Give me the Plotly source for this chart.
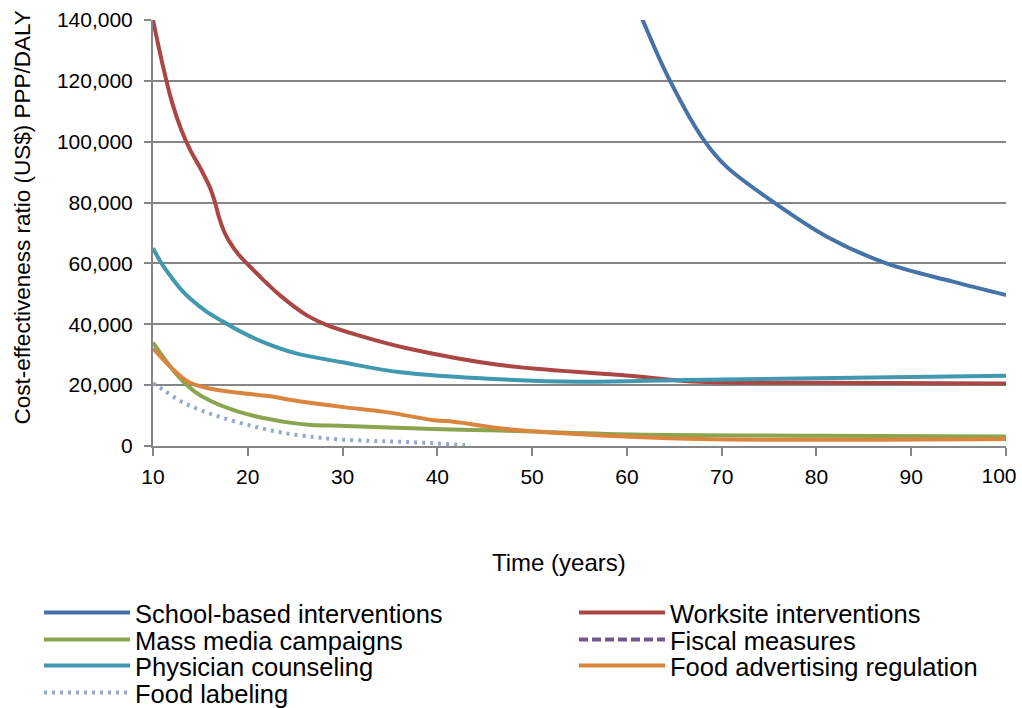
import plotly.graph_objects as go

# ---- Data ----
school_x = [61.6, 64.5, 68.1, 70.5, 75.4, 81.1, 87.4, 94.4, 100]
school_y = [140500, 120300, 100600, 91800, 80300, 68800, 60000, 54000, 49600]

worksite_x = [10, 11, 12, 13, 14, 15, 16, 16.5, 17, 17.5, 18, 19, 20, 21.5, 23.4, 26.2,
              28.3, 31.5, 36.8, 46.6, 60.6, 67.7, 80, 100]
worksite_y = [140000, 125500, 113000, 103800, 96800, 91300, 85000, 80500, 74800, 70500, 67500,
              63000, 59700, 55000, 49500, 43000, 39800, 36500, 32100, 26600, 23000, 21100,
              20800, 20500]

massmedia_x = [10, 11.3, 12.7, 14.4, 16.2, 19.0, 21.8, 24.6, 26.7, 30.3, 39.6, 46.6, 60.6, 80, 100]
massmedia_y = [34000, 28300, 22800, 17900, 14600, 11300, 9100, 7600, 6900, 6600, 5600, 5100,
               3800, 3400, 3100]

fiscal_x = [10, 100]
fiscal_y = [None, None]

physician_x = [10, 11, 12, 13, 14, 15.5, 17.2, 19, 21.5, 25, 30, 36.1, 46.6, 55, 66.3, 80, 100]
physician_y = [65000, 59500, 55200, 51300, 48200, 44500, 41200, 38000, 34300, 30500, 27500,
               24200, 21900, 21100, 21700, 22300, 23100]

foodadv_x = [10, 12.0, 13.7, 15.8, 19.0, 22.2, 24.6, 30.3, 34.3, 39.6, 41.7, 43.1, 46.6, 53.7,
             67.7, 100]
foodadv_y = [32100, 25500, 21100, 19000, 17500, 16400, 15100, 12700, 11300, 8500, 8000, 7400,
             5800, 4100, 2300, 2300]

label_x = [10, 11.1, 13.0, 15.0, 17.2, 20.4, 23.6, 27.1, 29.4, 33.0, 36.1, 39.6, 42.9, 43.5]
label_y = [20600, 18400, 14600, 11800, 9400, 6600, 4400, 2900, 2200, 1700, 1400, 900, 300, 200]

series_names = ["School-based interventions", "Worksite interventions",
                "Mass media campaigns", "Fiscal measures",
                "Physician counseling", "Food advertising regulation",
                "Food labeling"]

x_ticks = [10, 20, 30, 40, 50, 60, 70, 80, 90, 100]
x_tick_labels = ["10", "20", "30", "40", "50", "60", "70", "80", "90", "100"]
y_ticks = [0, 20000, 40000, 60000, 80000, 100000, 120000, 140000]
y_tick_labels = ["0", "20,000", "40,000", "60,000", "80,000", "100,000", "120,000", "140,000"]

x_title = "Time (years)"
y_title = "Cost-effectiveness ratio (US$) PPP/DALY"

colors = ["#4572A7", "#AA4643", "#89A54E", "#71588F", "#4198AF", "#DB843D", "#93A9CF"]
dashes = ["solid", "solid", "solid", "9px,4px", "solid", "solid", "3px,5px"]
xs = [school_x, worksite_x, massmedia_x, fiscal_x, physician_x, foodadv_x, label_x]
ys = [school_y, worksite_y, massmedia_y, fiscal_y, physician_y, foodadv_y, label_y]
# the empty "Fiscal measures" series sits on an overlay x-axis that carries the last tick label
x_axes = ["x", "x", "x", "x2", "x", "x", "x"]

# legend slots (column left px, row center px) -- one legend box per entry
legend_ids = ["legend", "legend2", "legend3", "legend4", "legend5", "legend6", "legend7"]
legend_pos = [(45, 613), (580, 613), (45, 640), (580, 640), (45, 666), (580, 666), (45, 693)]

FONT = "Liberation Sans, Arial, sans-serif"
W, H = 1022, 708

fig = go.Figure()
for name, x, y, c, d, lid, xa in zip(series_names, xs, ys, colors, dashes, legend_ids, x_axes):
    fig.add_trace(go.Scatter(
        x=x, y=y, name=name, mode="lines", legend=lid, xaxis=xa, yaxis="y",
        line=dict(color=c, width=4, dash=d, shape="spline", smoothing=1.0),
    ))

legend_layout = {}
for lid, (px, py) in zip(legend_ids, legend_pos):
    legend_layout[lid] = dict(
        xref="container", yref="container",
        x=(px - 6) / W, xanchor="left",
        y=1 - py / H, yanchor="middle",
        orientation="v", itemwidth=86,
        bgcolor="rgba(0,0,0,0)",
        font=dict(family=FONT, size=25.5, color="#000000"),
    )

fig.update_layout(
    width=W, height=H,
    paper_bgcolor="white", plot_bgcolor="white",
    margin=dict(l=153, r=16, t=20, b=262, autoexpand=False),
    font=dict(family=FONT, size=21, color="#000000"),
    showlegend=True,
    **legend_layout,
    annotations=[
        dict(text=y_title, xref="paper", yref="paper",
             x=(22 - 153) / 853, y=(446 - 217.5) / 426, xanchor="center", yanchor="middle",
             textangle=-90, showarrow=False, font=dict(size=22.5, family=FONT, color="#000000")),
        dict(text=x_title, xref="paper", yref="paper",
             x=(559 - 153) / 853, y=(446 - 562) / 426, xanchor="center", yanchor="middle",
             showarrow=False, font=dict(size=24, family=FONT, color="#000000")),
    ],
)

fig.update_layout(
    xaxis=dict(
        range=[10, 100], tickvals=x_ticks, ticktext=x_tick_labels[:-1] + [""],
        showgrid=False, zeroline=False, automargin=False,
        showline=True, linecolor="#868686", linewidth=2,
        ticks="outside", ticklen=8, tickwidth=2, tickcolor="#868686",
        tickfont=dict(size=21, color="#000000"), ticklabeloverflow="allow",
        ticklabelstandoff=3,
    ),
    xaxis2=dict(
        range=[10, 100], overlaying="x", anchor="y", side="bottom",
        tickvals=x_ticks[-1:], ticktext=x_tick_labels[-1:],
        showgrid=False, zeroline=False, automargin=False, showline=False,
        ticks="outside", ticklen=8, tickwidth=2, tickcolor="rgba(0,0,0,0)",
        tickfont=dict(size=21, color="#000000"), ticklabeloverflow="allow",
        ticklabelstandoff=3, ticklabelshift=-7,
    ),
    yaxis=dict(
        range=[0, 140000], tickvals=y_ticks, ticktext=y_tick_labels,
        showgrid=True, gridcolor="#868686", gridwidth=2,
        zeroline=False, automargin=False,
        showline=True, linecolor="#868686", linewidth=2,
        ticks="outside", ticklen=7, tickwidth=2, tickcolor="#868686",
        tickfont=dict(size=21, color="#000000"), ticklabeloverflow="allow",
        ticklabelstandoff=7,
    ),
)

fig.write_html("out.html", config={"displayModeBar": False},
               post_script="document.body.style.margin='0px';document.body.style.overflow='hidden';")
